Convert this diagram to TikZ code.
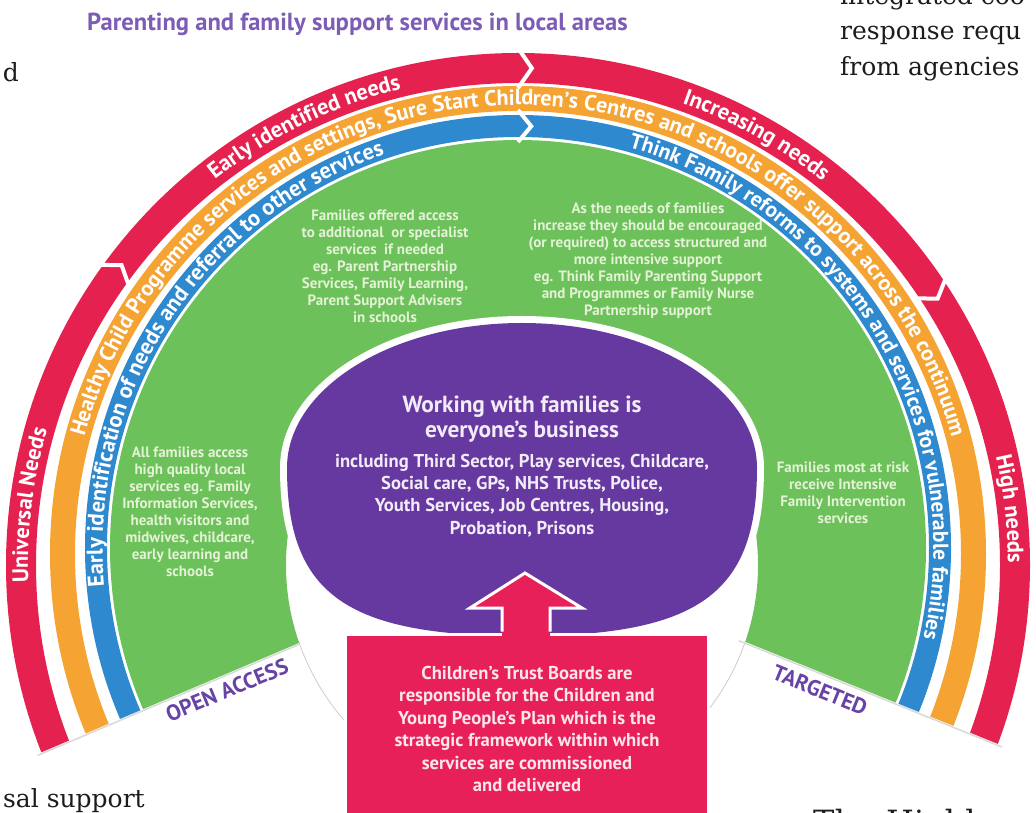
\documentclass[tikz,border=0pt]{standalone}
\usepackage{fontspec}
\setmainfont{PT Sans}
\newfontfamily\docserif{DejaVu Serif}
\usetikzlibrary{decorations.text,calc}

\definecolor{bandred}{HTML}{E5214F}
\definecolor{bandorange}{HTML}{F5A333}
\definecolor{bandblue}{HTML}{2F89CF}
\definecolor{bandgreen}{HTML}{6CC15A}
\definecolor{blobpurple}{HTML}{65399F}
\definecolor{titlepurple}{HTML}{7C5CB4}
\definecolor{labelpurple}{HTML}{6843A6}
\definecolor{greentext}{HTML}{E4F2D6}
\definecolor{blobtext}{HTML}{F3ECF8}
\definecolor{boxtext}{HTML}{FBE6EA}
\definecolor{boxred}{HTML}{E8205A}
\definecolor{doctext}{HTML}{1C1C1C}

% fonts for the lettering that runs round the bands
\newcommand\redband{\color{white}\bfseries\fontsize{22.5}{22.5}\selectfont}
\newcommand\orangeband{\color{white}\bfseries\fontsize{22}{22}\selectfont}
\newcommand\blueleft{\color{white}\bfseries\fontsize{22.6}{22.6}\selectfont}
\newcommand\blueright{\color{white}\bfseries\fontsize{21.6}{21.6}\selectfont}

% #1 centre, #2 radius, #3 start angle, #4 end angle, #5 format, #6 text
\newcommand\arclabel[6]{%
  \path[decorate,decoration={text along path,text align=center,text={|#5|#6}}]
    ([shift={(#3:#2)}]#1) arc[start angle=#3,end angle=#4,radius=#2];}

\begin{document}
\begin{tikzpicture}[x=1pt,y=1pt,
  greennote/.style={align=center,text=greentext,inner sep=0,
    font=\bfseries\fontsize{15}{17}\selectfont},
  blobhead/.style={align=center,text=blobtext,inner sep=0,
    font=\bfseries\fontsize{23.3}{25}\selectfont},
  blobbody/.style={align=center,text=blobtext,inner sep=0,
    font=\bfseries\fontsize{18.6}{22.3}\selectfont},
  boxnote/.style={align=center,text=boxtext,inner sep=0,
    font=\bfseries\fontsize{18.6}{22.4}\selectfont},
  accesslabel/.style={text=labelpurple,inner sep=0,
    font=\bfseries\fontsize{22}{22}\selectfont},
  doc/.style={text=doctext,inner sep=0,font=\docserif\fontsize{25}{25}\selectfont},
  chevron/.style={white,line width=4,line join=miter}]
\useasboundingbox (0,0) rectangle (1036,812);

\coordinate (cred) at (518,247);
\coordinate (corange) at (518,258);
\coordinate (cblue) at (518,264);
\coordinate (cinner) at (522,247);
\coordinate (apex) at (518,262);

% faint outline of the open inner circle and shadows under the band ends
\draw[black!20,line width=0.8] ([shift={(199:236)}]cinner)
  arc[start angle=199,end angle=341,radius=236];
\draw[black!15,line width=1.5] ([shift={(0,-1.5)}]$(apex)+(203:238)$) -- ([shift={(0,-1.5)}]$(apex)+(203:522)$);
\draw[black!15,line width=1.5] ([shift={(0,-1.5)}]$(apex)+(-22:238)$) -- ([shift={(0,-1.5)}]$(apex)+(-22:522)$);

% the concentric bands, cut off along the two end lines
\begin{scope}
  \clip (apex) -- ($(apex)+(203:800)$) -- (-400,1100) -- (1400,1100) -- ($(apex)+(-22:800)$) -- cycle;
  \fill[bandred,even odd rule] (cred) circle[radius=512] (cred) circle[radius=482];
  \fill[bandorange,even odd rule] (corange) circle[radius=468] (corange) circle[radius=443];
  \fill[bandblue,even odd rule] (cblue) circle[radius=433] (cblue) circle[radius=411];
  \fill[bandgreen,even odd rule] (cblue) circle[radius=408] (cinner) circle[radius=236];
\end{scope}

% arrow-shaped breaks between the band segments
\foreach \ang in {144.5,90,34}
  \draw[chevron] ($(cred)+(\ang:517)$) -- ($(cred)+({\ang-1.6}:497)$) -- ($(cred)+(\ang:477)$);
\draw[chevron] ($(cblue)+(90:438)$) -- ($(cblue)+(88.2:422)$) -- ($(cblue)+(90:406)$);

% lettering round the bands
\arclabel{cred}{490}{195}{151}{\redband}{Universal Needs}
\arclabel{cred}{490}{140}{92}{\redband}{Early identified needs}
\arclabel{cred}{490}{85}{37}{\redband}{Increasing needs}
\arclabel{cred}{490}{30.5}{-17.5}{\redband}{High needs}
\arclabel{corange}{449}{178}{2}{\orangeband}{Healthy Child Programme services and settings, Sure Start Children’s Centres and schools offer support across the continuum}
\arclabel{cblue}{415.5}{197}{97}{\blueleft}{Early identification of needs and referral to other services}
\arclabel{cblue}{415.5}{86}{-24}{\blueright}{Think Family reforms to systems and services for vulnerable families}

% the central purple shape with its white rim
\def\blobpath{(287,344) arc[start angle=180,end angle=0,x radius=235,y radius=145]
  .. controls (757,218) and (698,176) .. (522,176)
  .. controls (346,176) and (287,218) .. (287,344) -- cycle}
\draw[white,line width=14] \blobpath;
\fill[blobpurple] \blobpath;

% Children's Trust Boards box and its arrow
\node[fill=boxred,draw=white,line width=3,minimum width=363,minimum height=190,
  inner sep=0,anchor=north] (trustbox) at (526.5,179) {};
\fill[boxred] (502,176) -- (502,204) -- (470,204) -- (525,239) -- (582,204) -- (550,204) -- (550,176) -- cycle;
\draw[white,line width=3,line join=miter] (502,180.5) -- (502,204) -- (470,204) -- (525,239)
  -- (582,204) -- (550,204) -- (550,180.5);

% texts
\node[font=\bfseries\fontsize{24.6}{24.6}\selectfont,text=titlepurple] (title) at (357.5,788)
  {Parenting and family support services in local areas};

\node[greennote] (offered) at (385,546) {Families offered access\\to additional\ \ or specialist\\services\ \ if needed\\eg. Parent Partnership\\Services, Family Learning,\\Parent Support Advisers\\in schools};
\node[greennote] (increase) at (648,551) {As the needs of families\\increase they should be encouraged\\(or required) to access structured and\\more intensive support\\eg. Think Family Parenting Support\\and Programmes or Family Nurse\\Partnership support};
\node[greennote] (allfam) at (190,300.5) {All families access\\high quality local\\services eg. Family\\Information Services,\\health visitors and\\midwives, childcare,\\early learning and\\schools};
\node[greennote] (atrisk) at (843,319) {Families most at risk\\receive Intensive\\Family Intervention\\services};

\node[blobhead] (business) at (522,392.5) {Working with families is\\everyone’s business};
\node[blobbody] (partners) at (522,316.5) {including Third Sector, Play services, Childcare,\\Social care, GPs, NHS Trusts, Police,\\Youth Services, Job Centres, Housing,\\Probation, Prisons};

\node[boxnote] (trust) at (527,83) {Children’s Trust Boards are\\responsible for the Children and\\Young People’s Plan which is the\\strategic framework within which\\services are commissioned\\and delivered};

\node[accesslabel,rotate=22.5] (open) at (227,122) {OPEN ACCESS};
\node[accesslabel,rotate=-22] (targeted) at (820,122) {TARGETED};

% running text of the surrounding page
\node[doc,anchor=base west] (line1) at (840,807) {integrated coo};
\node[doc,anchor=base west] (line2) at (840,772) {response requ};
\node[doc,anchor=base west] (line3) at (840,736) {from agencies};
\node[doc,anchor=base east] (line4) at (19,730) {d};
\node[doc,anchor=base east] (line5) at (145,5) {sal support};
\node[doc,anchor=base west,font=\docserif\fontsize{32}{32}\selectfont] (line6) at (813,-21) {The\hspace{12pt}Highl};
\end{tikzpicture}
\end{document}
